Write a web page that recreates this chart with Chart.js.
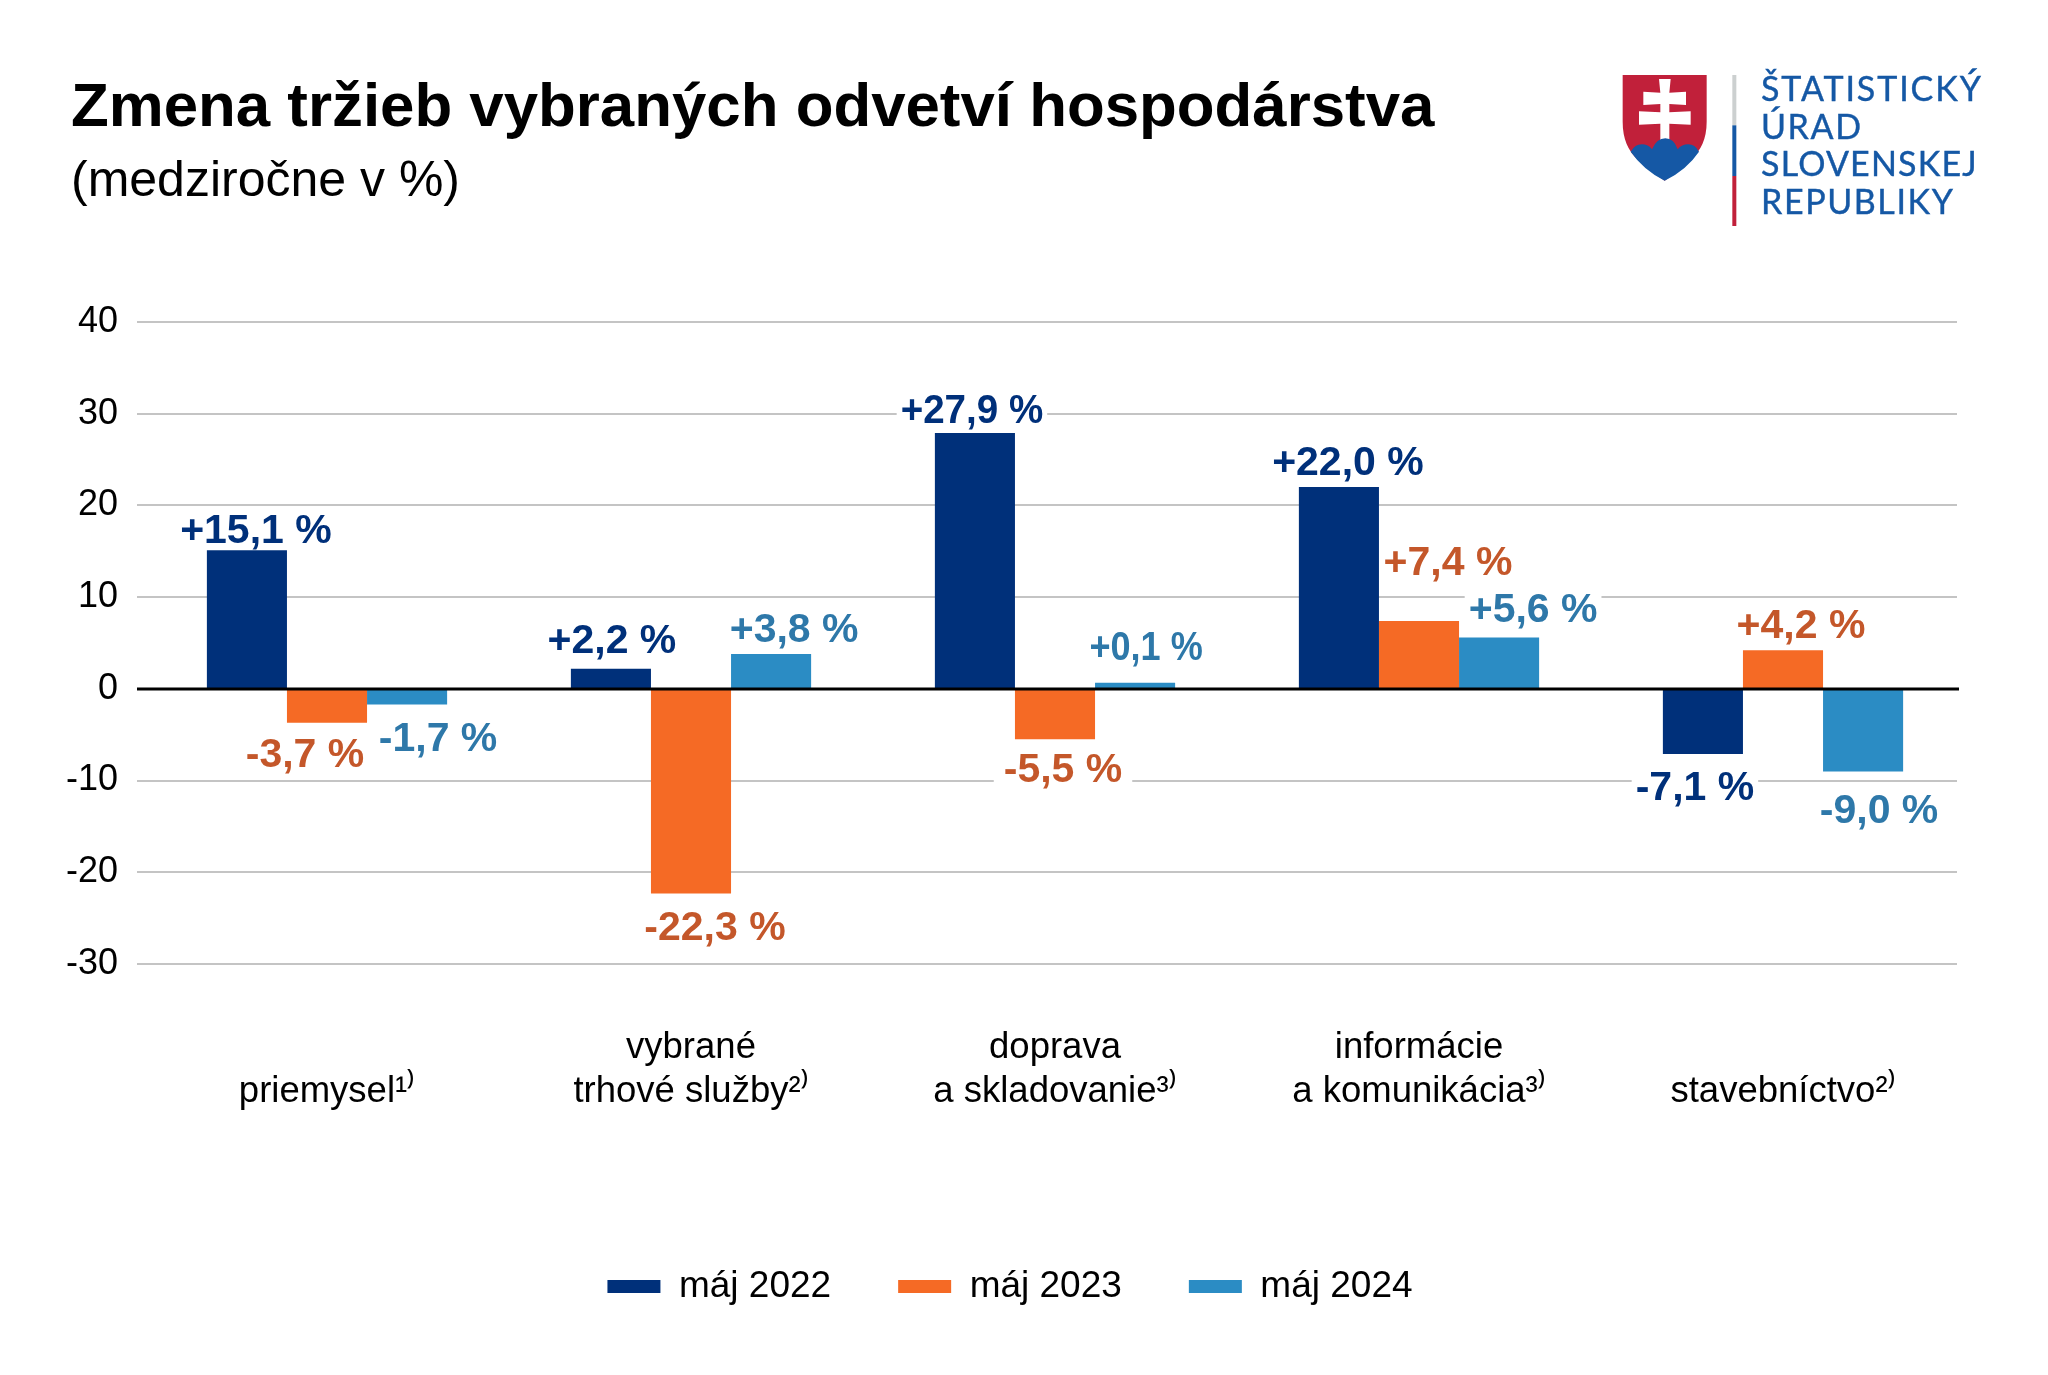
<!DOCTYPE html>
<html lang="sk">
<head>
<meta charset="utf-8">
<title>Zmena tržieb vybraných odvetví hospodárstva</title>
<script src="https://cdn.jsdelivr.net/npm/chart.js@4"></script>
<style>
html,body{margin:0;padding:0;background:#fff;width:2048px;height:1375px;overflow:hidden}
#wrap{position:relative;width:2048px;height:1375px}
canvas{position:absolute;left:0;top:0}
.t{position:absolute;white-space:nowrap;margin:0;color:#000;font-family:"Liberation Sans",Arial,sans-serif}
#title{left:71px;top:69px;font-size:61.8px;font-weight:700;line-height:72px}
#sub{left:71px;top:152px;font-size:50px;font-weight:400;line-height:54px}
.lg{position:absolute;left:1761px;white-space:nowrap;color:#1558a5;font-family:Lato,"Open Sans",sans-serif;font-size:34px;line-height:38px;letter-spacing:1.6px;-webkit-text-stroke:0.4px #1558a5}
#logo{position:absolute;left:1580px;top:50px}
</style>
</head>
<body>
<div id="wrap">
<canvas id="c" width="2048" height="1375"></canvas>
<h1 class="t" id="title">Zmena tržieb vybraných odvetví hospodárstva</h1>
<div class="t" id="sub">(medziročne v %)</div>
<svg id="logo" width="468" height="200" viewBox="0 0 1404 600">
<path d="M128 75H380V215Q380 290 330 330Q290 368 254 392Q215 368 175 330Q128 290 128 215Z" fill="#c1203a"/>
<path d="M237 87H272L268 128L318 125V165L268 162V187L332 184V224L268 221V270H241V221L177 224V184L241 187V162L190 165V125L241 128Z" fill="#fff"/>
<path d="M152 305Q165 283 185 283Q205 283 216 298Q230 265 256 265Q282 265 293 298Q305 283 325 283Q345 283 357 305Q320 360 254 392Q190 360 152 305Z" fill="#1558a5"/>
<rect x="457" y="75" width="12" height="151" fill="#ccd0d0"/>
<rect x="457" y="226" width="12" height="152" fill="#1558a5"/>
<rect x="457" y="378" width="12" height="150" fill="#c1203a"/>
</svg>
<div class="lg" style="top:69px;letter-spacing:1.9px">ŠTATISTICKÝ</div>
<div class="lg" style="top:107px">ÚRAD</div>
<div class="lg" style="top:144px;letter-spacing:1.2px">SLOVENSKEJ</div>
<div class="lg" style="top:182px">REPUBLIKY</div>
</div>
<script>
const categories = [
  ['', 'priemysel¹⁾'],
  ['vybrané', 'trhové služby²⁾'],
  ['doprava', 'a skladovanie³⁾'],
  ['informácie', 'a komunikácia³⁾'],
  ['', 'stavebníctvo²⁾']
];
const seriesNames = ['máj 2022', 'máj 2023', 'máj 2024'];
const may2022 = [15.1, 2.2, 27.9, 22.0, -7.1];
const may2023 = [-3.7, -22.3, -5.5, 7.4, 4.2];
const may2024 = [-1.7, 3.8, 0.1, 5.6, -9.0];
const yMin = -30, yMax = 40, yStep = 10;

const barColors = ['#00307a', '#f56a25', '#2b8cc4'];
const labelColors = ['#00307a', '#c4572a', '#2e78a9'];
// label offsets relative to each bar's tip, in pixels
const labelDx = [[9, 1, -3, 9, -8], [-22, 24, 8, 29, 18], [31, 23, 11, 34, 16]];
const labelDy = [[-19, -27, -21, -23, 35], [33, 35, 31, -57, -24], [35, -23, -34, -27, 40]];
// labels that interrupt a gridline behind them: extra padding each side, 0 = none
const labelKnockout = [[0, 0, 4, 0, 4], [0, 0, 10, 0, 0], [0, 0, 0, 4, 0]];
// horizontal squeeze of labels that are set tighter
const labelSqueeze = [[1, 1, 0.94, 1, 1], [1, 1, 1, 1, 1], [1, 1, 0.88, 1, 1]];

const fmt = v => (v > 0 ? '+' : '') + v.toFixed(1).replace('.', ',') + ' %';
const FONT = '"Liberation Sans", Arial, sans-serif';

const guides = {
  id: 'guides',
  beforeDatasetsDraw(chart) {
    const { ctx, scales: { y } } = chart;
    const left = 137, right = 1957;
    ctx.save();
    y.ticks.forEach(t => {
      if (t.value === 0) return;
      const p = Math.round(y.getPixelForValue(t.value));
      ctx.strokeStyle = '#c4c4c4'; ctx.lineWidth = 2;
      ctx.beginPath(); ctx.moveTo(left, p); ctx.lineTo(right, p); ctx.stroke();
    });
    ctx.restore();
  },
  afterDatasetsDraw(chart) {
    const { ctx, scales: { y } } = chart;
    const p = Math.round(y.getPixelForValue(0));
    ctx.save();
    ctx.strokeStyle = '#000'; ctx.lineWidth = 3;
    ctx.beginPath(); ctx.moveTo(137, p); ctx.lineTo(1959, p); ctx.stroke();
    ctx.font = '700 41px ' + FONT;
    ctx.textAlign = 'center'; ctx.textBaseline = 'middle';
    chart.data.datasets.forEach((ds, s) => {
      chart.getDatasetMeta(s).data.forEach((bar, i) => {
        const x = bar.x + labelDx[s][i], yy = bar.y + labelDy[s][i];
        const txt = fmt(ds.data[i]);
        const w = ctx.measureText(txt).width * labelSqueeze[s][i];
        if (labelKnockout[s][i]) {
          ctx.fillStyle = '#fff';
          ctx.fillRect(x - w / 2 - labelKnockout[s][i], yy - 15, w + 2 * labelKnockout[s][i], 34);
        }
        ctx.fillStyle = labelColors[s];
        ctx.fillText(txt, x, yy, w);
      });
    });
    ctx.restore();
  }
};

new Chart(document.getElementById('c'), {
  type: 'bar',
  data: {
    labels: categories,
    datasets: [may2022, may2023, may2024].map((d, i) => ({
      label: seriesNames[i], data: d, backgroundColor: barColors[i], borderWidth: 0,
      categoryPercentage: 0.66, barPercentage: 1, minBarLength: 6
    }))
  },
  options: {
    responsive: false,
    animation: false,
    layout: { padding: { left: 55, right: 83, top: 322, bottom: 60 } },
    plugins: {
      title: { display: false },
      tooltip: { enabled: false },
      legend: {
        position: 'bottom',
        labels: {
          boxWidth: 53, boxHeight: 13, padding: 67, color: '#000',
          font: { family: FONT, size: 37 }
        }
      }
    },
    scales: {
      x: {
        grid: { display: false, drawTicks: false },
        border: { display: false },
        afterFit(s) { s.height = 237; },
        ticks: {
          padding: 62, color: '#000', maxRotation: 0, autoSkip: false,
          font: { family: FONT, size: 36.5, lineHeight: 1.2 }
        }
      },
      y: {
        min: yMin, max: yMax,
        grid: { display: false, drawTicks: false },
        border: { display: false },
        afterFit(s) { s.width = 90; },
        ticks: {
          stepSize: yStep, padding: 27, color: '#000',
          font: { family: FONT, size: 36 }
        }
      }
    }
  },
  plugins: [guides]
});
</script>
</body>
</html>
